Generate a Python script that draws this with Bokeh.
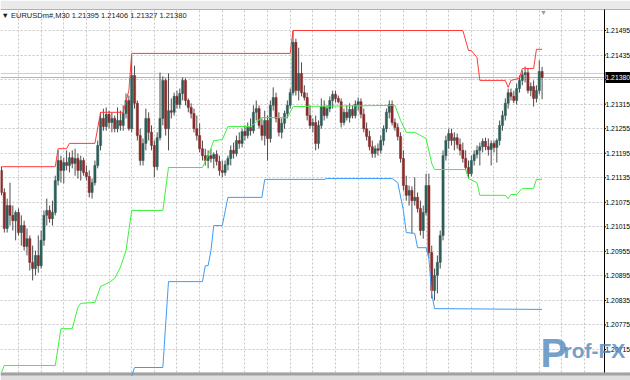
from bokeh.plotting import figure
from bokeh.models import FixedTicker, Label, Grid
from bokeh.core.properties import value
from bokeh.embed import file_html
from bokeh.resources import INLINE

symbol = "EURUSDm#,M30"

opens = [
    1.21153, 1.21099, 1.21011, 1.21067, 1.21043, 1.21030, 1.21050, 1.21001, 1.21018, 1.20967,
    1.20986, 1.20928, 1.20913, 1.20945, 1.20920, 1.20982, 1.21043, 1.21055, 1.21035, 1.21050,
    1.21128, 1.21177, 1.21153, 1.21172, 1.21165, 1.21184, 1.21170, 1.21182, 1.21153, 1.21177,
    1.21148, 1.21138, 1.21099, 1.21123, 1.21165, 1.21214, 1.21280, 1.21260, 1.21290, 1.21270,
    1.21280, 1.21255, 1.21275, 1.21263, 1.21292, 1.21324, 1.21255, 1.21385, 1.21317, 1.21238,
    1.21177, 1.21219, 1.21280, 1.21246, 1.21214, 1.21162, 1.21233, 1.21280, 1.21373, 1.21255,
    1.21299, 1.21295, 1.21334, 1.21314, 1.21341, 1.21373, 1.21324, 1.21307, 1.21292, 1.21255,
    1.21238, 1.21206, 1.21189, 1.21177, 1.21189, 1.21182, 1.21192, 1.21175, 1.21153, 1.21148,
    1.21167, 1.21182, 1.21202, 1.21194, 1.21226, 1.21219, 1.21248, 1.21238, 1.21258, 1.21250,
    1.21295, 1.21304, 1.21263, 1.21238, 1.21275, 1.21231, 1.21312, 1.21331, 1.21280, 1.21246,
    1.21268, 1.21292, 1.21312, 1.21343, 1.21466, 1.21348, 1.21390, 1.21343, 1.21331, 1.21287,
    1.21263, 1.21270, 1.21219, 1.21263, 1.21309, 1.21287, 1.21304, 1.21324, 1.21339, 1.21329,
    1.21321, 1.21270, 1.21295, 1.21282, 1.21302, 1.21287, 1.21314, 1.21321, 1.21290, 1.21255,
    1.21236, 1.21211, 1.21194, 1.21206, 1.21202, 1.21226, 1.21255, 1.21295, 1.21314, 1.21270,
    1.21258, 1.21236, 1.21182, 1.21116, 1.21092, 1.21104, 1.21079, 1.21087, 1.21060, 1.21006,
    1.21050, 1.21116, 1.20952, 1.20859, 1.20896, 1.20928, 1.20994, 1.21189, 1.21226, 1.21243,
    1.21226, 1.21233, 1.21216, 1.21202, 1.21182, 1.21160, 1.21145, 1.21177, 1.21192, 1.21202,
    1.21211, 1.21224, 1.21211, 1.21204, 1.21219, 1.21209, 1.21226, 1.21263, 1.21287, 1.21317,
    1.21343, 1.21334, 1.21324, 1.21353, 1.21373, 1.21387, 1.21392, 1.21348, 1.21358, 1.21329,
    1.21348, 1.21395,
]

highs = [
    1.21162, 1.21109, 1.21084, 1.21123, 1.21067, 1.21055, 1.21060, 1.21043, 1.21030, 1.21011,
    1.20994, 1.20969, 1.20957, 1.20994, 1.21006, 1.21055, 1.21084, 1.21067, 1.21079, 1.21140,
    1.21202, 1.21189, 1.21184, 1.21202, 1.21197, 1.21202, 1.21206, 1.21194, 1.21189, 1.21184,
    1.21165, 1.21153, 1.21133, 1.21177, 1.21226, 1.21295, 1.21304, 1.21307, 1.21299, 1.21295,
    1.21287, 1.21307, 1.21299, 1.21312, 1.21341, 1.21336, 1.21434, 1.21409, 1.21324, 1.21255,
    1.21231, 1.21304, 1.21295, 1.21263, 1.21226, 1.21246, 1.21392, 1.21383, 1.21378, 1.21390,
    1.21329, 1.21343, 1.21348, 1.21353, 1.21380, 1.21378, 1.21329, 1.21317, 1.21304, 1.21287,
    1.21268, 1.21226, 1.21206, 1.21202, 1.21206, 1.21197, 1.21202, 1.21189, 1.21177, 1.21177,
    1.21189, 1.21214, 1.21221, 1.21238, 1.21246, 1.21255, 1.21263, 1.21270, 1.21280, 1.21312,
    1.21324, 1.21312, 1.21280, 1.21299, 1.21287, 1.21324, 1.21356, 1.21343, 1.21295, 1.21280,
    1.21299, 1.21324, 1.21353, 1.21495, 1.21475, 1.21453, 1.21417, 1.21361, 1.21343, 1.21312,
    1.21280, 1.21287, 1.21275, 1.21329, 1.21324, 1.21312, 1.21334, 1.21348, 1.21348, 1.21336,
    1.21329, 1.21304, 1.21312, 1.21317, 1.21312, 1.21324, 1.21331, 1.21329, 1.21304, 1.21270,
    1.21250, 1.21226, 1.21214, 1.21219, 1.21238, 1.21263, 1.21304, 1.21324, 1.21324, 1.21280,
    1.21268, 1.21246, 1.21202, 1.21140, 1.21116, 1.21114, 1.21136, 1.21099, 1.21079, 1.21067,
    1.21145, 1.21145, 1.20969, 1.20913, 1.20945, 1.21006, 1.21202, 1.21238, 1.21255, 1.21255,
    1.21246, 1.21243, 1.21231, 1.21221, 1.21202, 1.21177, 1.21189, 1.21202, 1.21214, 1.21221,
    1.21231, 1.21233, 1.21231, 1.21226, 1.21226, 1.21231, 1.21275, 1.21299, 1.21329, 1.21353,
    1.21353, 1.21348, 1.21365, 1.21385, 1.21397, 1.21407, 1.21402, 1.21368, 1.21373, 1.21361,
    1.21422, 1.21406,
]

lows = [
    1.21092, 1.21001, 1.21001, 1.21018, 1.21006, 1.20982, 1.20994, 1.20969, 1.20957, 1.20945,
    1.20908, 1.20884, 1.20896, 1.20903, 1.20913, 1.20969, 1.21018, 1.21025, 1.21018, 1.21043,
    1.21116, 1.21123, 1.21121, 1.21153, 1.21148, 1.21158, 1.21140, 1.21133, 1.21128, 1.21140,
    1.21128, 1.21087, 1.21084, 1.21116, 1.21158, 1.21202, 1.21250, 1.21250, 1.21255, 1.21246,
    1.21246, 1.21246, 1.21250, 1.21250, 1.21280, 1.21250, 1.21246, 1.21304, 1.21226, 1.21165,
    1.21165, 1.21202, 1.21226, 1.21202, 1.21136, 1.21153, 1.21226, 1.21263, 1.21238, 1.21202,
    1.21280, 1.21287, 1.21304, 1.21304, 1.21324, 1.21312, 1.21295, 1.21280, 1.21246, 1.21226,
    1.21197, 1.21177, 1.21165, 1.21158, 1.21172, 1.21158, 1.21165, 1.21140, 1.21136, 1.21140,
    1.21153, 1.21165, 1.21182, 1.21187, 1.21206, 1.21209, 1.21226, 1.21231, 1.21238, 1.21243,
    1.21275, 1.21255, 1.21226, 1.21214, 1.21177, 1.21221, 1.21299, 1.21270, 1.21236, 1.21231,
    1.21255, 1.21280, 1.21304, 1.21336, 1.21336, 1.21324, 1.21334, 1.21324, 1.21275, 1.21255,
    1.21246, 1.21202, 1.21206, 1.21255, 1.21275, 1.21280, 1.21295, 1.21304, 1.21319, 1.21317,
    1.21258, 1.21263, 1.21275, 1.21270, 1.21280, 1.21280, 1.21299, 1.21280, 1.21246, 1.21226,
    1.21202, 1.21184, 1.21184, 1.21189, 1.21194, 1.21214, 1.21246, 1.21280, 1.21263, 1.21250,
    1.21226, 1.21172, 1.21104, 1.21079, 1.21067, 1.20999, 1.21067, 1.21050, 1.20994, 1.20986,
    1.21043, 1.20938, 1.20840, 1.20835, 1.20852, 1.20913, 1.20982, 1.21177, 1.21206, 1.21214,
    1.21202, 1.21206, 1.21189, 1.21172, 1.21153, 1.21133, 1.21138, 1.21165, 1.21182, 1.21165,
    1.21197, 1.21202, 1.21189, 1.21165, 1.21197, 1.21172, 1.21214, 1.21250, 1.21275, 1.21304,
    1.21324, 1.21317, 1.21314, 1.21343, 1.21361, 1.21368, 1.21341, 1.21334, 1.21309, 1.21319,
    1.21339, 1.21327,
]

closes = [
    1.21099, 1.21011, 1.21067, 1.21043, 1.21030, 1.21050, 1.21001, 1.21018, 1.20967, 1.20986,
    1.20928, 1.20913, 1.20945, 1.20920, 1.20982, 1.21043, 1.21055, 1.21035, 1.21050, 1.21128,
    1.21177, 1.21153, 1.21172, 1.21165, 1.21184, 1.21170, 1.21182, 1.21153, 1.21177, 1.21148,
    1.21138, 1.21099, 1.21123, 1.21165, 1.21214, 1.21280, 1.21260, 1.21290, 1.21270, 1.21280,
    1.21255, 1.21275, 1.21263, 1.21292, 1.21324, 1.21255, 1.21385, 1.21317, 1.21238, 1.21177,
    1.21219, 1.21280, 1.21246, 1.21214, 1.21162, 1.21233, 1.21280, 1.21373, 1.21255, 1.21299,
    1.21295, 1.21334, 1.21314, 1.21341, 1.21373, 1.21324, 1.21307, 1.21292, 1.21255, 1.21238,
    1.21206, 1.21189, 1.21177, 1.21189, 1.21182, 1.21192, 1.21175, 1.21153, 1.21148, 1.21167,
    1.21182, 1.21202, 1.21194, 1.21226, 1.21219, 1.21248, 1.21238, 1.21258, 1.21250, 1.21295,
    1.21304, 1.21263, 1.21238, 1.21275, 1.21231, 1.21312, 1.21331, 1.21280, 1.21246, 1.21268,
    1.21292, 1.21312, 1.21343, 1.21466, 1.21348, 1.21390, 1.21343, 1.21331, 1.21287, 1.21263,
    1.21270, 1.21219, 1.21263, 1.21309, 1.21287, 1.21304, 1.21324, 1.21339, 1.21329, 1.21321,
    1.21270, 1.21295, 1.21282, 1.21302, 1.21287, 1.21314, 1.21321, 1.21290, 1.21255, 1.21236,
    1.21211, 1.21194, 1.21206, 1.21202, 1.21226, 1.21255, 1.21295, 1.21314, 1.21270, 1.21258,
    1.21236, 1.21182, 1.21116, 1.21092, 1.21104, 1.21079, 1.21087, 1.21060, 1.21006, 1.21050,
    1.21116, 1.20952, 1.20859, 1.20896, 1.20928, 1.20994, 1.21189, 1.21226, 1.21243, 1.21226,
    1.21233, 1.21216, 1.21202, 1.21182, 1.21160, 1.21145, 1.21177, 1.21192, 1.21202, 1.21211,
    1.21224, 1.21211, 1.21204, 1.21219, 1.21209, 1.21226, 1.21263, 1.21287, 1.21317, 1.21343,
    1.21334, 1.21324, 1.21353, 1.21373, 1.21387, 1.21392, 1.21348, 1.21358, 1.21329, 1.21348,
    1.21395, 1.21380,
]

# indicator lines: vertices (bar index, price)
red_idx = [0, 19, 20, 23, 24, 33, 35, 43, 45, 46, 102, 103, 163, 165, 166, 168, 169,
           178, 179, 180, 183, 184, 188, 189, 191]
red_val = [1.21162, 1.21162, 1.21206, 1.21206, 1.21219, 1.21219, 1.21295, 1.21295, 1.21348,
           1.21439, 1.21439, 1.21495, 1.21495, 1.21446, 1.21446, 1.21429, 1.21373, 1.21373,
           1.21356, 1.21373, 1.21378, 1.21402, 1.21402, 1.21449, 1.21449]

green_idx = [0, 1, 19, 21, 25, 27, 28, 33, 35, 38, 40, 42, 44, 45, 46, 57, 59, 71, 73, 75,
             78, 80, 88, 92, 101, 103, 139, 141, 143, 146, 150, 152, 153, 164, 165, 168, 169,
             178, 179, 180, 182, 184, 188, 189, 191]
green_val = [1.20659, 1.20676, 1.20676, 1.20766, 1.20766, 1.20818, 1.20828, 1.20830, 1.20869,
             1.20879, 1.20889, 1.20916, 1.20957, 1.21006, 1.21055, 1.21055, 1.21160, 1.21160,
             1.21189, 1.21226, 1.21228, 1.21260, 1.21260, 1.21282, 1.21282, 1.21309, 1.21312,
             1.21275, 1.21246, 1.21246, 1.21231, 1.21170, 1.21155, 1.21155, 1.21133, 1.21123,
             1.21092, 1.21092, 1.21084, 1.21094, 1.21094, 1.21109, 1.21109, 1.21131, 1.21131]

blue_idx = [46, 47, 57, 59, 71, 72, 73, 74, 75, 78, 80, 92, 93, 114, 115, 138, 140, 142,
            143, 146, 147, 150, 151, 152, 153, 191]
blue_val = [1.20650, 1.20671, 1.20671, 1.20881, 1.20881, 1.20920, 1.20920, 1.20957, 1.21018,
            1.21018, 1.21087, 1.21087, 1.21131, 1.21131, 1.21133, 1.21133, 1.21123, 1.21055,
            1.21001, 1.20999, 1.20964, 1.20964, 1.20938, 1.20852, 1.20815, 1.20813]

y_ticks = [1.20715, 1.20775, 1.20835, 1.20895, 1.20955, 1.21015, 1.21075, 1.21135,
           1.21195, 1.21255, 1.21315, 1.21375, 1.21435, 1.21495]
grid_bars = list(range(6, 223, 8))
bid_price = 1.21380
ask_price = 1.21390

# ---- layout constants (pixel geometry of the terminal window) ----
W, H = 630, 380
SP = 2.8304            # pixels per bar
PX_PER_PRICE = 1.0 / 0.00002445
ANCHOR_PRICE, ANCHOR_PX = 1.21495, 30.0
AXIS_PX, TOP_PX, BOT_PX = 604, 9, 372
LABEL_END_PX = 629.5


def bx(px):
    return (px - 1.0) / SP


def py(px):
    return ANCHOR_PRICE - (px - ANCHOR_PX) / PX_PER_PRICE


n = len(closes)
idx = list(range(n))
bull = [c >= o for o, c in zip(opens, closes)]
body_top = [max(o, c) for o, c in zip(opens, closes)]
body_bot = [min(o, c) for o, c in zip(opens, closes)]
body_col = ["#2d5e58" if b else "#8a2a2a" for b in bull]

p = figure(width=W, height=H, x_range=(bx(0), bx(W)), y_range=(py(H), py(0)),
           output_backend="svg", toolbar_location=None,
           x_axis_location=None, y_axis_location=None,
           min_border=0, min_border_left=0, min_border_right=0,
           min_border_top=0, min_border_bottom=0,
           background_fill_color="white", border_fill_color="white",
           outline_line_color=None)
p.grid.visible = False

gstyle = dict(grid_line_color="#c6c6c6", grid_line_dash="2 2", grid_line_width=1)
p.add_layout(Grid(dimension=0, ticker=FixedTicker(ticks=grid_bars), **gstyle))
p.add_layout(Grid(dimension=1, ticker=FixedTicker(ticks=y_ticks), **gstyle))

# window chrome: top strip, bottom strip, price-scale panel
p.quad(left=bx(0), right=bx(W), bottom=py(TOP_PX), top=py(0),
       fill_color="#eaeaea", line_color=None)
p.quad(left=bx(0), right=bx(W), bottom=py(H), top=py(BOT_PX),
       fill_color="#dedede", line_color=None)
p.quad(left=bx(AXIS_PX + 0.5), right=bx(W), bottom=py(BOT_PX), top=py(TOP_PX),
       fill_color="white", line_color=None)
p.segment(x0=bx(0), y0=py(TOP_PX), x1=bx(W), y1=py(TOP_PX), line_color="#b0b0b0", line_width=1)
p.segment(x0=bx(0), y0=py(BOT_PX + 1.5), x1=bx(W), y1=py(BOT_PX + 1.5),
          line_color="#a2a2a2", line_width=3)

# price lines
p.segment(x0=bx(0), y0=ask_price, x1=bx(AXIS_PX), y1=ask_price, line_color="#cdcdcd", line_width=1)
p.segment(x0=bx(0), y0=bid_price, x1=bx(AXIS_PX), y1=bid_price, line_color="#b4b4b4", line_width=1)

# candles
p.segment(x0=idx, y0=highs, x1=idx, y1=lows, line_color="#4d4d4d", line_width=1)
p.vbar(x=idx, width=0.78, top=body_top, bottom=body_bot,
       fill_color=body_col, line_color=body_col, line_width=0.5)

# indicator lines
p.line(red_idx, red_val, line_color="#ff3a3a", line_width=1)
p.line(green_idx, green_val, line_color="#3cf03c", line_width=1)
p.line(blue_idx, blue_val, line_color="#3d9cf5", line_width=1)

# price scale: axis line, short ticks, labels (right-aligned so they stay in the window)
p.segment(x0=bx(AXIS_PX), y0=py(BOT_PX), x1=bx(AXIS_PX), y1=py(TOP_PX),
          line_color="black", line_width=1)
p.segment(x0=[bx(AXIS_PX)] * len(y_ticks), y0=y_ticks,
          x1=[bx(AXIS_PX + 1.5)] * len(y_ticks), y1=y_ticks, line_color="black", line_width=1)
label_style = dict(text_font=value("Liberation Sans"), text_font_size=value("6.8px"),
                   text_baseline="middle", text_align="right")
p.text(x=[bx(LABEL_END_PX)] * len(y_ticks), y=y_ticks,
       text=["{:.5f}".format(t) for t in y_ticks], text_color="black", **label_style)

# current price box
p.quad(left=bx(AXIS_PX + 1), right=bx(W), bottom=bid_price - 5.5 / PX_PER_PRICE,
       top=bid_price + 5.5 / PX_PER_PRICE, fill_color="black", line_color=None)
p.text(x=[bx(LABEL_END_PX)], y=[bid_price], text=["{:.5f}".format(bid_price)],
       text_color="white", **label_style)

# header text
header = "\u25BC {}  {:.5f} {:.5f} {:.5f} {:.5f}".format(symbol, opens[-1], highs[-1], lows[-1], closes[-1])
p.add_layout(Label(x=1, y=H - 15, x_units="screen", y_units="screen", text=header,
                   text_font="Liberation Sans", text_font_size="7.5px",
                   text_color="#1a1a1a", text_baseline="middle"))

# chart shift marker
p.add_layout(Label(x=543, y=H - 12, x_units="screen", y_units="screen", text="\u25BC",
                   text_font_size="7px", text_color="#9a9a9a",
                   text_align="center", text_baseline="middle"))

# watermark
p.add_layout(Label(x=540, y=H - 352, x_units="screen", y_units="screen", text="P",
                   text_font="Liberation Sans", text_font_style="bold", text_font_size="40px",
                   text_color="#4f86ba", text_alpha=0.8, text_baseline="alphabetic"))
p.add_layout(Label(x=563, y=H - 350, x_units="screen", y_units="screen", text="rof-FX",
                   text_font="Liberation Sans", text_font_style="bold", text_font_size="21px",
                   text_color="#4f86ba", text_alpha=0.8, text_baseline="alphabetic"))

open("out.html", "w").write(file_html(p, INLINE))
